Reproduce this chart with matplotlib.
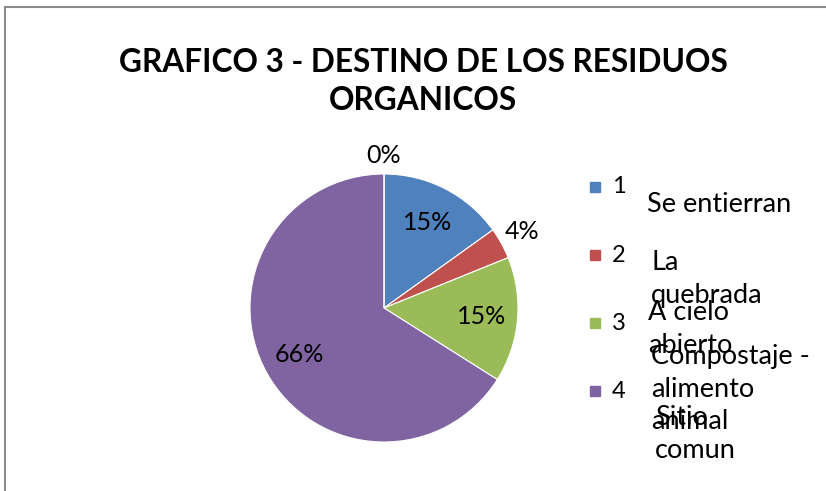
import numpy as np
import matplotlib.pyplot as plt
from matplotlib.lines import Line2D
from matplotlib.patches import Rectangle

# data
ids = ['1', '2', '3', '4', '5']
names = ['Se entierran', 'La\nquebrada', 'A cielo\nabierto', 'Compostaje -\nalimento\nanimal', 'Sitio\ncomun']
counts = [8, 2, 8, 35, 0]
colors = ['#4F81BD', '#C0504D', '#9BBB59', '#8064A2', '#4BACC6']
label_dist = [0.72, 1.18, 0.73, 0.72, 1.14]

W, H = 826, 491
fig = plt.figure(figsize=(W / 100, H / 100), dpi=100)
plt.rcParams['font.family'] = ['Lato', 'DejaVu Sans']

def fx(px):
    return px / W

def fy(py):
    return 1 - py / H

# frame (only left and top edges show)
fig.add_artist(Line2D([fx(4.5), fx(4.5)], [0, fy(6.5)], color='#8c8c8c', lw=1.5))
fig.add_artist(Line2D([fx(4.5), 1], [fy(6.5), fy(6.5)], color='#8c8c8c', lw=1.5))

fig.text(fx(423), fy(63), 'GRAFICO 3 - DESTINO DE LOS RESIDUOS', ha='center', va='center',
         fontsize=22.8, fontweight='bold')
fig.text(fx(423), fy(101), 'ORGANICOS', ha='center', va='center', fontsize=22.8, fontweight='bold')

cx, cy, r = 384, 308, 134
ax = fig.add_axes([fx(cx - r), fy(cy + r), 2 * r / W, 2 * r / H])
wedges, _ = ax.pie(counts, colors=colors, startangle=90, counterclock=False,
                   wedgeprops=dict(edgecolor='white', linewidth=0.8))
ax.set_xlim(-1, 1)
ax.set_ylim(-1, 1)
ax.set_aspect('auto')

total = sum(counts)
for w, c, d in zip(wedges, counts, label_dist):
    mid = np.deg2rad((w.theta1 + w.theta2) / 2)
    ax.text(d * np.cos(mid), d * np.sin(mid), f'{round(100 * c / total)}%',
            ha='center', va='center', fontsize=18, clip_on=False)

# legend (only 4 entries fit)
leg_y = [187, 255, 323, 391]
for i, y in enumerate(leg_y):
    fig.add_artist(Rectangle((fx(590), fy(y + 5)), 10 / W, 10 / H, color=colors[i]))
    fig.text(fx(612), fy(y), ids[i], ha='left', va='center', fontsize=17)

# category names drawn on top of the legend
name_pos = [(647, 203), (651, 261), (648, 311), (651, 355), (655, 416)]
for n, (x, y) in zip(names, name_pos):
    fig.text(fx(x), fy(y - 11), n, ha='left', va='top', fontsize=19.5, linespacing=1.38)

fig.savefig('out.png', dpi=100)
